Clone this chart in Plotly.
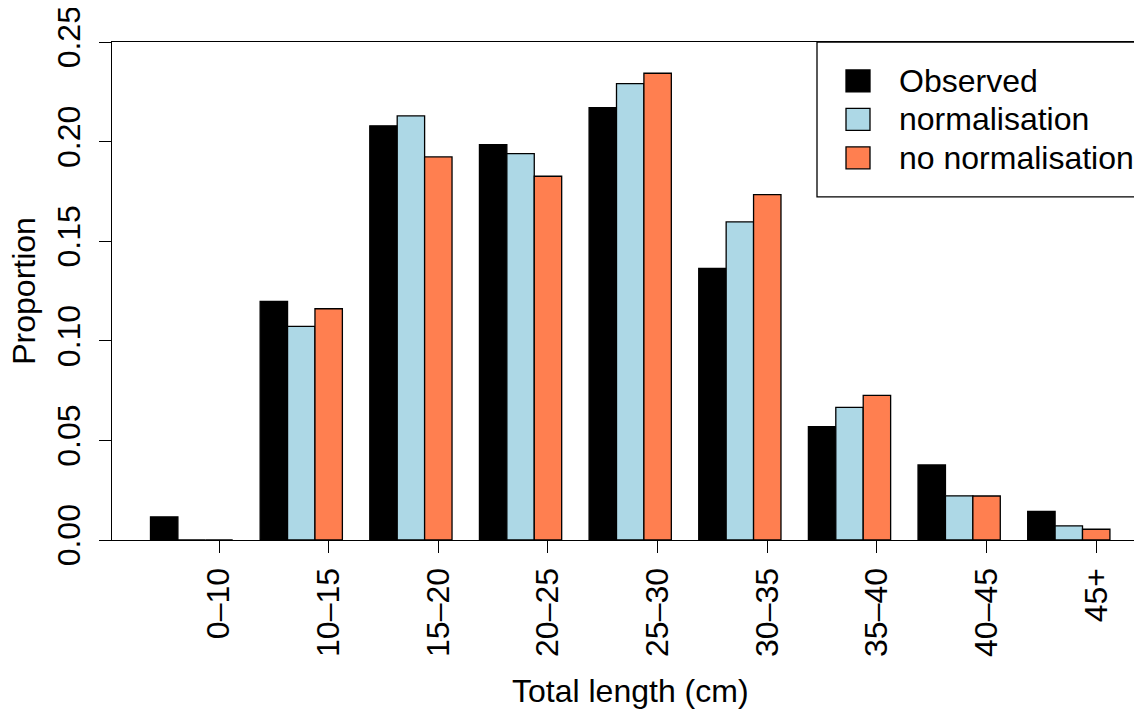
import plotly.graph_objects as go

# ---- data ----
categories = ["0–10", "10–15", "15–20", "20–25", "25–30", "30–35", "35–40", "40–45", "45+"]
observed = [0.0116, 0.1198, 0.2079, 0.1985, 0.2171, 0.1363, 0.0569, 0.0377, 0.0144]
normalisation = [0.0, 0.1072, 0.2129, 0.1940, 0.2291, 0.1597, 0.0666, 0.0222, 0.0071]
no_normalisation = [0.0, 0.1161, 0.1923, 0.1826, 0.2343, 0.1734, 0.0726, 0.0221, 0.0054]
series_names = ["Observed", "normalisation", "no normalisation"]
series_colors = ["#000000", "#ADD8E6", "#FF7F50"]
y_ticks = [0.0, 0.05, 0.10, 0.15, 0.20, 0.25]
y_ticktext = ["0.00", "0.05", "0.10", "0.15", "0.20", "0.25"]

FONT = "Liberation Sans, Arial, Helvetica, sans-serif"
FS = 32

# R barplot(beside=TRUE, space=c(0,1)) layout: each group = 1 gap + 3 bars of width 1
n = len(categories)
series = [observed, normalisation, no_normalisation]
group_start = [1 + 4 * i for i in range(n)]

fig = go.Figure()
for k, (name, vals, col) in enumerate(zip(series_names, series, series_colors)):
    fig.add_trace(go.Bar(
        x=[g + k + 0.5 for g in group_start],
        y=vals,
        width=1,
        name=name,
        marker=dict(color=col, line=dict(color="#000000", width=1.3)),
        showlegend=False,
    ))

tick_pos = [g + 2.5 for g in group_start]  # centre of the third bar

# the page body has an 8px margin; compensate so the figure lands where the reference is
OFF = 8
WIN_W, WIN_H = 1142, 713
W, H = WIN_W - OFF, WIN_H - OFF
# plot region in window pixels
L, R, T, B = 112, 1142, 42, 540.5

def px_x(p):
    return (p - L) / (R - L)

def px_y(p):
    return (B - p) / (B - T)

fig.update_layout(
    width=W, height=H,
    margin=dict(l=L - OFF, r=WIN_W - R, t=T - OFF, b=WIN_H - B, pad=0),
    paper_bgcolor="white", plot_bgcolor="white",
    barmode="overlay",
    font=dict(family=FONT, size=FS, color="black"),
    showlegend=False,
)

fig.update_xaxes(
    range=[-0.404, 37.17],
    automargin=False,
    tickmode="array", tickvals=tick_pos, ticktext=categories,
    tickangle=-90,
    ticks="outside", ticklen=12, tickwidth=1.3, tickcolor="black",
    ticklabelstandoff=2,
    ticklabeloverflow="allow",
    showline=True, linecolor="black", linewidth=1.3, mirror=True,
    showgrid=False, zeroline=False,
    tickfont=dict(family=FONT, size=FS, color="black"),
)
fig.update_yaxes(
    range=[0, 0.25],
    automargin=False,
    tickmode="array", tickvals=y_ticks, ticktext=y_ticktext,
    tickangle=-90,
    ticks="outside", ticklen=12, tickwidth=1.3, tickcolor="black",
    ticklabelstandoff=6,
    ticklabeloverflow="allow",
    showline=True, linecolor="black", linewidth=1.3,
    showgrid=False, zeroline=False,
    tickfont=dict(family=FONT, size=FS, color="black"),
)

# axis titles
fig.add_annotation(text="Total length (cm)", xref="paper", yref="paper",
                   x=px_x(630), y=px_y(692), xanchor="center", yanchor="middle",
                   showarrow=False, font=dict(family=FONT, size=FS, color="black"))
fig.add_annotation(text="Proportion", xref="paper", yref="paper",
                   x=px_x(24), y=px_y(291), xanchor="center", yanchor="middle",
                   textangle=-90, showarrow=False,
                   font=dict(family=FONT, size=FS, color="black"))

# legend (R-style boxed legend, top-right)
fig.add_shape(type="rect", xref="paper", yref="paper",
              x0=px_x(817), x1=px_x(1160), y0=px_y(197), y1=px_y(42),
              line=dict(color="black", width=1.3), fillcolor="white", layer="above")
row_centres = [81, 119.5, 158]
for name, col, yc in zip(series_names, series_colors, row_centres):
    fig.add_shape(type="rect", xref="paper", yref="paper",
                  x0=px_x(846), x1=px_x(870), y0=px_y(yc + 11), y1=px_y(yc - 11),
                  line=dict(color="black", width=1.3), fillcolor=col, layer="above")
    fig.add_annotation(text=name, xref="paper", yref="paper",
                       x=px_x(897), y=px_y(yc), xanchor="left", yanchor="middle",
                       showarrow=False, font=dict(family=FONT, size=FS, color="black"))

fig.write_html("out.html")
